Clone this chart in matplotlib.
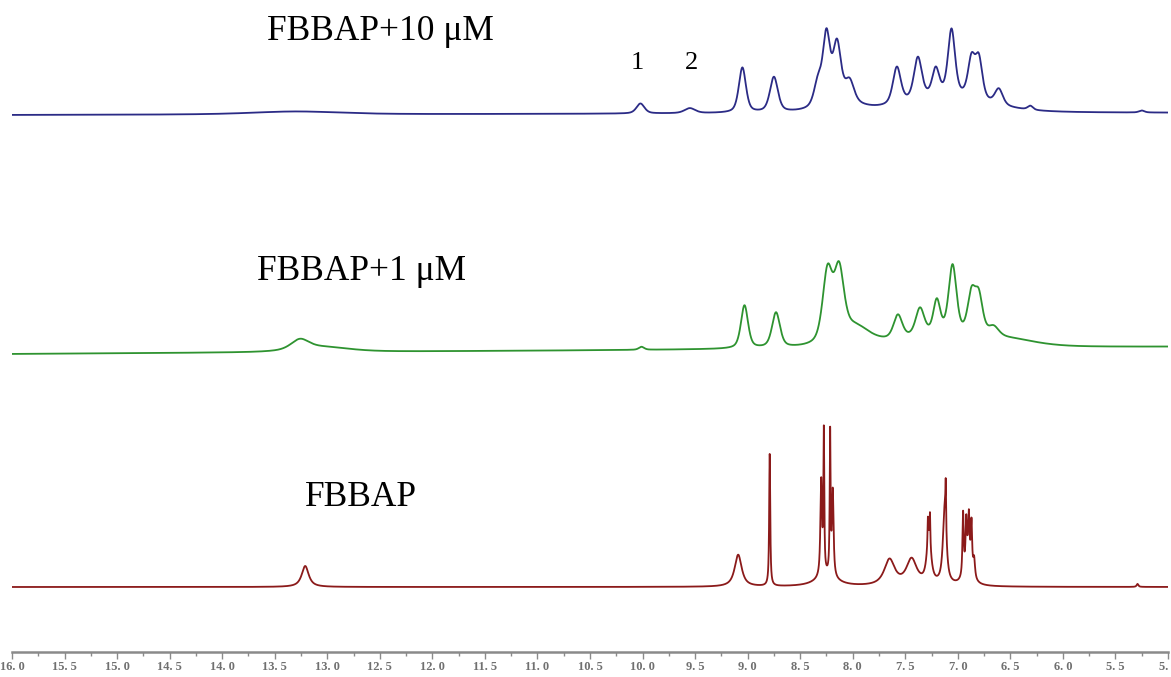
import numpy as np
import matplotlib
matplotlib.use("Agg")
import matplotlib.pyplot as plt
from matplotlib.ticker import MultipleLocator, FuncFormatter

# Peak tables: chemical shift (ppm), height, half-width at half-maximum (ppm)
blue_shift = [13.30, 10.02, 9.55, 9.05, 8.75, 8.33, 8.25, 8.15, 8.03, 8.10,
              7.58, 7.38, 7.21, 7.06, 6.87, 6.80, 6.61, 6.31, 5.25, 7.10]
blue_height = [3, 10, 5, 45, 35, 24, 68, 58, 21, 8,
               37, 42, 27, 66, 38, 40, 16, 4, 2, 16]
blue_width = [0.5, 0.045, 0.06, 0.04, 0.045, 0.045, 0.04, 0.045, 0.05, 0.2,
              0.045, 0.045, 0.04, 0.04, 0.04, 0.04, 0.045, 0.03, 0.03, 0.45]

green_shift = [13.26, 13.05, 10.01, 9.03, 8.73, 8.24, 8.13, 7.98,
               7.57, 7.36, 7.20, 7.05, 6.87, 6.80, 6.66, 6.50, 7.20]
green_height = [10, 5, 3, 43, 35, 70, 66, 18,
                24, 28, 34, 70, 40, 38, 10, 6, 10]
green_width = [0.1, 0.3, 0.03, 0.04, 0.045, 0.055, 0.055, 0.17,
               0.05, 0.05, 0.04, 0.045, 0.045, 0.045, 0.06, 0.3, 0.5]

red_shift = [13.21, 9.09, 8.79, 8.30, 8.275, 8.215, 8.19, 8.25,
             7.65, 7.44, 7.275, 7.285, 7.265, 7.125, 7.115,
             6.95, 6.92, 6.895, 6.87, 6.845, 6.90, 5.29]
red_height = [21, 32, 132, 95, 140, 140, 85, 10,
              26, 26, 45, 25, 30, 75, 45,
              62, 42, 40, 45, 18, 30, 3]
red_width = [0.04, 0.04, 0.006, 0.009, 0.005, 0.005, 0.009, 0.12,
             0.06, 0.06, 0.025, 0.004, 0.004, 0.02, 0.004,
             0.007, 0.007, 0.007, 0.007, 0.01, 0.035, 0.01]

labels = ["FBBAP+10 \u03bcM", "FBBAP+1 \u03bcM", "FBBAP"]
peak_marks = ["1", "2"]
peak_mark_shift = [10.05, 9.53]


def spectrum(ppm, shifts, heights, widths, eta):
    """Sum of pseudo-Voigt lines; eta is the Lorentzian fraction."""
    y = np.zeros_like(ppm)
    for s, h, w in zip(shifts, heights, widths):
        d = ppm - s
        lor = w ** 2 / (d ** 2 + w ** 2)
        gau = np.exp(-np.log(2) * (d / w) ** 2)
        y += h * (eta * lor + (1 - eta) * gau)
    return y


ppm = np.linspace(16.0, 5.0, 40000)

fig = plt.figure(figsize=(11.71, 6.77), dpi=100)
ax = fig.add_axes([12 / 1171, 1 - 652 / 677, (1168 - 12) / 1171, 652 / 677])

traces = [
    (blue_shift, blue_height, blue_width, 0.5, 537, 2, "#2b2b86"),
    (green_shift, green_height, green_width, 0.5, 298, 7, "#2e9330"),
    (red_shift, red_height, red_width, 0.9, 65, 0, "#8b1a1a"),
]
for shifts, heights, widths, eta, base, tilt, color in traces:
    drift = base + tilt * (16.0 - ppm) / 11.0
    ax.plot(ppm, drift + spectrum(ppm, shifts, heights, widths, eta),
            color=color, lw=1.3, solid_joinstyle="round")

ax.set_xlim(16.0, 5.0)
ax.set_ylim(0, 652)

serif = ["Liberation Serif", "DejaVu Serif"]
ax.text(12.49, 620, labels[0], family=serif, fontsize=25.5, ha="center", va="center")
ax.text(12.67, 381, labels[1], family=serif, fontsize=25.5, ha="center", va="center")
ax.text(12.68, 155, labels[2], family=serif, fontsize=25.5, ha="center", va="center")
for mark, s in zip(peak_marks, peak_mark_shift):
    ax.text(s, 589, mark, family=serif, fontsize=19, ha="center", va="center")

for side in ("top", "right", "left"):
    ax.spines[side].set_visible(False)
ax.spines["bottom"].set_color("#8a8a8a")
ax.spines["bottom"].set_linewidth(1.8)
ax.set_yticks([])
ax.xaxis.set_major_locator(MultipleLocator(0.5))
ax.xaxis.set_minor_locator(MultipleLocator(0.25))
ax.xaxis.set_major_formatter(FuncFormatter(lambda v, _: f"{v:.1f}".replace(".", ". ")))
ax.tick_params(axis="x", which="major", length=5, width=1.0, color="#8a8a8a",
               labelsize=9, labelcolor="#707070", pad=1.5)
ax.tick_params(axis="x", which="minor", length=3, width=1.0, color="#8a8a8a")
for lbl in ax.get_xticklabels():
    lbl.set_family(serif)
    lbl.set_fontweight("bold")

fig.savefig("out.png", dpi=100)
